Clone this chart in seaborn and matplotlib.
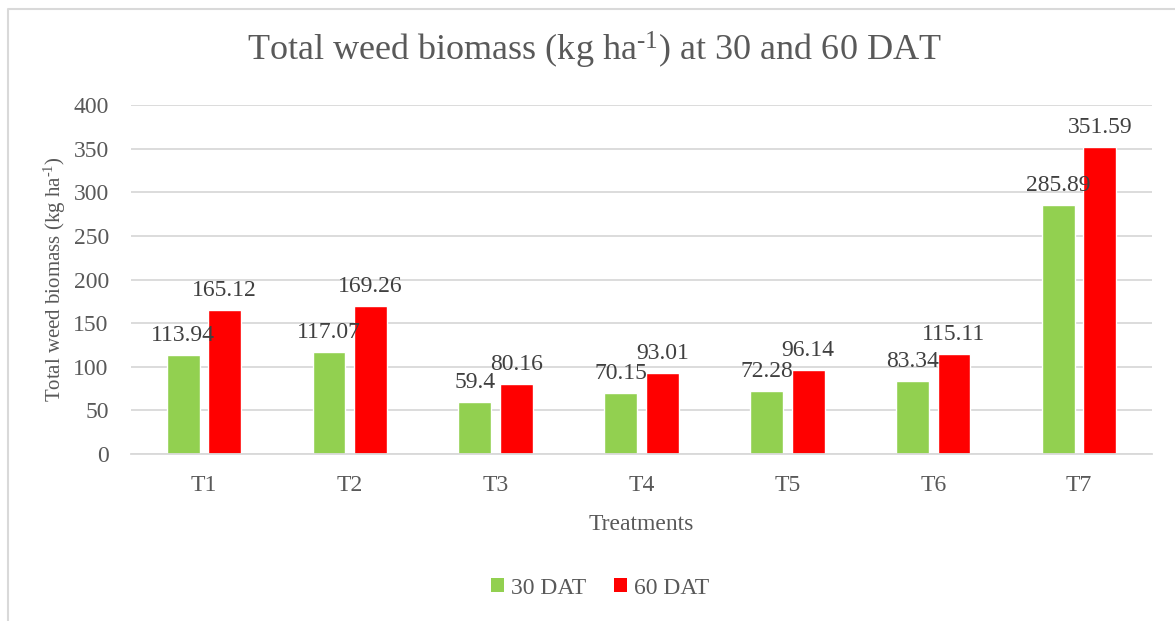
import matplotlib
matplotlib.use("Agg")
import matplotlib.pyplot as plt
import seaborn as sns
import pandas as pd
from matplotlib.lines import Line2D
from matplotlib.patches import Patch

treatments = ["T1", "T2", "T3", "T4", "T5", "T6", "T7"]
dat30 = [113.94, 117.07, 59.4, 70.15, 72.28, 83.34, 285.89]
dat60 = [165.12, 169.26, 80.16, 93.01, 96.14, 115.11, 351.59]
series = ["30 DAT", "60 DAT"]
colors = ["#92D050", "#FF0000"]
yticks = [0, 50, 100, 150, 200, 250, 300, 350, 400]

df = pd.DataFrame({
    "Treatment": treatments * 2,
    "Value": dat30 + dat60,
    "Series": [series[0]] * len(treatments) + [series[1]] * len(treatments),
})

sns.set_theme(style="white")
plt.rcParams["font.family"] = ["Liberation Serif", "DejaVu Serif"]
plt.rcParams["mathtext.fontset"] = "custom"
plt.rcParams["mathtext.rm"] = "Liberation Serif"
plt.rcParams["mathtext.it"] = "Liberation Serif"
txt = "#595959"

fig = plt.figure(figsize=(11.75, 6.21), dpi=100)
ax = fig.add_axes([131/1175, 1 - 454/621, (1152-131)/1175, (454-105)/621])

sns.barplot(data=df, x="Treatment", y="Value", hue="Series", palette=colors,
            width=0.57, gap=0.21, ax=ax, legend=False, saturation=1, errorbar=None)

for cont in ax.containers:
    for bar in cont:
        h = bar.get_height()
        ax.annotate(f"{h:g}", (bar.get_x() + bar.get_width()/2, h),
                    xytext=(0, 10), textcoords="offset points",
                    ha="center", va="baseline", fontsize=17, color="#404040")

ax.set_ylim(0, 400)
ax.set_yticks(yticks)
ax.set_xlim(-0.5, 6.5)
ax.yaxis.grid(True, color="#D9D9D9", linewidth=1.3)
ax.set_axisbelow(True)
for s in ["top", "right", "left"]:
    ax.spines[s].set_visible(False)
ax.spines["bottom"].set_color("#D9D9D9")
ax.spines["bottom"].set_linewidth(1.3)
ax.tick_params(axis="both", length=0, labelsize=17, colors=txt)
ax.tick_params(axis="x", pad=15)
ax.tick_params(axis="y", pad=16)
ax.set_xlabel("Treatments", fontsize=17, color=txt, labelpad=13)
ax.set_ylabel("Total weed biomass (kg ha$^{\\mathregular{\u20101}}$)", fontsize=15, color=txt, labelpad=4)

fig.text(594/1175, 1 - 50/621, "Total weed biomass (kg ha$^{\\mathregular{\u20101}}$) at 30 and 60 DAT",
         ha="center", va="center", fontsize=26, color=txt)

handles = [Patch(facecolor=c, edgecolor="none") for c in colors]
fig.legend(handles, series, loc="center", bbox_to_anchor=(600/1175, 1 - 588/621),
           ncol=2, frameon=False, fontsize=17, labelcolor=txt,
           handlelength=0.55, handleheight=0.55, handletextpad=0.3, columnspacing=1.2)

fx = 8/1175
fy = 1 - 9/621
fig.add_artist(Line2D([fx, fx, 1], [0, fy, fy], transform=fig.transFigure,
                      color="#D9D9D9", linewidth=1.5))

fig.savefig("out.png", dpi=100)
